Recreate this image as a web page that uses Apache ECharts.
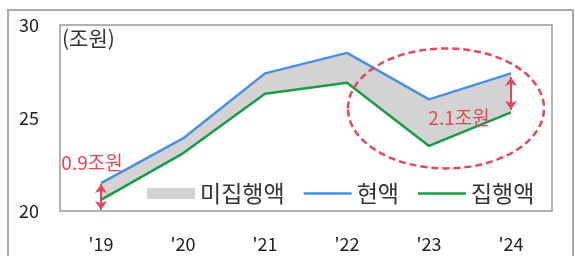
<!DOCTYPE html>
<html>
<head>
<meta charset="utf-8">
<script src="https://cdn.jsdelivr.net/npm/echarts@6/dist/echarts.min.js"></script>
<style>
  html, body { margin: 0; padding: 0; background: #fff; }
  #chart { width: 575px; height: 256px; }
</style>
</head>
<body>
<div id="chart"></div>
<script>
// 연도, 현액, 집행액 (조원)
const years = ["'19", "'20", "'21", "'22", "'23", "'24"];
const budget = [21.5, 23.9, 27.4, 28.5, 26.0, 27.4];
const executed = [20.6, 23.1, 26.3, 26.9, 23.5, 25.3];
const yTicks = { min: 20, max: 30, interval: 5 };

// 미집행액 = 현액 - 집행액
const unexecuted = budget.map((v, i) => +(v - executed[i]).toFixed(2));

const red = '#e5465c';
const font = '"Noto Sans CJK KR", "Noto Sans", sans-serif';
const lineIcon = 'path://M0,0H48V2.6H0Z';

const chart = echarts.init(document.getElementById('chart'));

const option = {
    animation: false,
    textStyle: { fontFamily: font },
    grid: {
        left: 60, right: 23, top: 25, bottom: 45,
        show: true, borderColor: '#999', borderWidth: 1.5
    },
    legend: {
        left: 147, top: 182, padding: 0,
        itemWidth: 48, itemHeight: 11, itemGap: 19,
        symbolKeepAspect: true,
        textStyle: { fontSize: 23, color: '#333', fontFamily: font },
        data: [
            { name: '미집행액', icon: 'rect' },
            { name: '현액', icon: lineIcon, itemStyle: { color: '#4a90e2' } },
            { name: '집행액', icon: lineIcon, itemStyle: { color: '#1b9a47' } }
        ]
    },
    xAxis: {
        type: 'category',
        data: years,
        axisLine: { show: false },
        axisTick: { show: false },
        axisLabel: { fontSize: 18, color: '#222', margin: 24 }
    },
    yAxis: {
        type: 'value',
        min: yTicks.min, max: yTicks.max, interval: yTicks.interval,
        axisLine: { show: false },
        axisTick: { show: false },
        splitLine: { show: false },
        axisLabel: { fontSize: 18, color: '#222', margin: 21 }
    },
    series: [
        {
            name: '집행액',
            type: 'line',
            stack: 'band',
            data: executed,
            symbol: 'none',
            color: '#1b9a47',
            lineStyle: { width: 2.5, color: '#1b9a47' },
            z: 4,
            markLine: {
                silent: true,
                symbol: ['arrow', 'arrow'],
                symbolSize: [9, 9],
                label: { show: false },
                lineStyle: { color: red, width: 2, type: 'solid' },
                data: [
                    [{ coord: ["'19", 21.45] }, { coord: ["'19", 20.05] }],
                    [{ coord: ["'24", 27.2] }, { coord: ["'24", 25.45] }]
                ]
            }
        },
        {
            name: '미집행액',
            type: 'line',
            stack: 'band',
            data: unexecuted,
            symbol: 'none',
            color: '#d3d3d3',
            lineStyle: { width: 0 },
            areaStyle: { color: '#d3d3d3', opacity: 1 },
            z: 2
        },
        {
            name: '현액',
            type: 'line',
            data: budget,
            symbol: 'none',
            color: '#4a90e2',
            lineStyle: { width: 2.5, color: '#4a90e2' },
            z: 4
        }
    ]
};

chart.setOption(option);

const p19 = chart.convertToPixel({ gridIndex: 0 }, ["'19", 21.5]);
const p23 = chart.convertToPixel({ gridIndex: 0 }, ["'23", 26.0]);

chart.setOption({
    graphic: [
        {
            id: 'frame', type: 'rect', silent: true, z: 1,
            shape: { x: 8, y: 10, width: 565, height: 260 },
            style: { fill: 'none', stroke: '#aaa', lineWidth: 2 }
        },
        {
            id: 'unit', type: 'text', left: 62, top: 28, z: 20,
            style: { text: '(조원)', fontSize: 21, fill: '#333', fontFamily: font }
        },
        {
            id: 'gap19', type: 'text', x: p19[0] - 9, y: p19[1] - 20, z: 20,
            style: { text: '0.9조원', fontSize: 19, fill: red, fontFamily: font, align: 'center', verticalAlign: 'middle' }
        },
        {
            id: 'gap24', type: 'text', x: p23[0] + 30, y: p23[1] + 18, z: 20,
            style: { text: '2.1조원', fontSize: 19, fill: red, fontFamily: font, align: 'center', verticalAlign: 'middle' }
        },
        {
            id: 'ring', type: 'ellipse', silent: true, z: 20,
            shape: { cx: p23[0] + 17, cy: p23[1] + 9, rx: 98, ry: 60 },
            style: { fill: 'none', stroke: red, lineWidth: 2.5, lineDash: [7, 4] }
        }
    ]
});

window.addEventListener('resize', () => {
    chart.resize();
});
</script>
</body>
</html>
